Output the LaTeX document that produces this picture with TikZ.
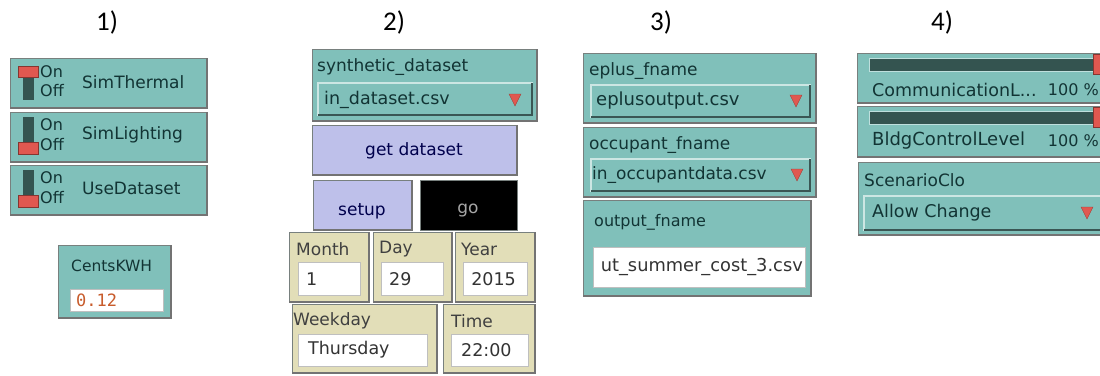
\documentclass[tikz,border=0pt]{standalone}
\usepackage{fontspec}
\setmainfont{DejaVu Sans}
\newfontfamily\titlefont{Carlito}
\newfontfamily\monofont{DejaVu Sans Mono}
\usepackage{tikz}

\definecolor{nlteal}{RGB}{128,192,186}
\definecolor{nltext}{RGB}{18,52,52}
\definecolor{nlbtn}{RGB}{190,192,234}
\definecolor{nlmon}{RGB}{226,222,184}
\definecolor{nlred}{RGB}{224,88,80}
\definecolor{nlbar}{RGB}{52,84,80}
\definecolor{nlorange}{RGB}{200,92,44}
\definecolor{nledge}{RGB}{120,128,126}

\begin{document}
\begin{tikzpicture}[x=1pt,y=-1pt,
  widget/.style={fill=nlteal, draw=nledge, line width=1pt},
  button/.style={fill=nlbtn, draw=nledge, line width=1pt},
  monitor/.style={fill=nlmon, draw=nledge, line width=1pt},
  shadow/.style={draw=black!55, line width=1.4pt},
  dropbox/.style={fill=nlteal, draw=white!60!nlteal, line width=1.2pt},
  drophi/.style={draw=nlteal!45!black, line width=1.4pt},
  whitebox/.style={fill=white, draw=black!25, line width=.6pt},
  tri/.style={fill=nlred, draw=nlred!70!black, line width=.4pt},
  lbl/.style={anchor=west, inner sep=0, text=nltext, font=\fontsize{17}{18}\selectfont},
  small/.style={font=\fontsize{16}{17}\selectfont},
  val/.style={anchor=west, inner sep=0, text=black!80, font=\fontsize{17.5}{19}\selectfont},
  title/.style={font=\titlefont\fontsize{27}{29}\selectfont}]
\useasboundingbox[fill=white] (0,0) rectangle (1100,375);

% headings
\node[title] (t1) at (107,22) {1)};
\node[title] (t2) at (394,22) {2)};
\node[title] (t3) at (661,22) {3)};
\node[title] (t4) at (942,22) {4)};

% 1) switches
\filldraw[widget] (10,58) rectangle (207,108); %
\draw[shadow] (10,108) -- (207,108) -- (207,58); %
\fill[nlbar] (23,70) rectangle (34,100);
\filldraw[fill=nlred, draw=nlred!60!black] (18,66) rectangle (38,77);
\node[lbl, small] (on1) at (40,72) {On};
\node[lbl, small] (off1) at (40,91) {Off};
\node[lbl] (simthermal) at (82,82) {SimThermal};

\filldraw[widget] (10,112) rectangle (207,162); %
\draw[shadow] (10,162) -- (207,162) -- (207,112); %
\fill[nlbar] (23,117) rectangle (34,150);
\filldraw[fill=nlred, draw=nlred!60!black] (18,142) rectangle (38,154);
\node[lbl, small] (on2) at (40,125) {On};
\node[lbl, small] (off2) at (40,145) {Off};
\node[lbl] (simlighting) at (82,135) {SimLighting};

\filldraw[widget] (10,165) rectangle (207,215); %
\draw[shadow] (10,215) -- (207,215) -- (207,165); %
\fill[nlbar] (23,170) rectangle (34,203);
\filldraw[fill=nlred, draw=nlred!60!black] (18,195) rectangle (38,207);
\node[lbl, small] (on3) at (40,178) {On};
\node[lbl, small] (off3) at (40,198) {Off};
\node[lbl] (usedataset) at (82,188) {UseDataset};

% 1) input box
\filldraw[widget] (58,245) rectangle (171,318); %
\draw[shadow] (58,318) -- (171,318) -- (171,245); %
\node[lbl, font=\fontsize{15.5}{17}\selectfont] (centskwh) at (71,266) {CentsKWH};
\filldraw[whitebox] (70,289) rectangle (163,311);
\node[anchor=west, inner sep=0, text=nlorange, font=\monofont\fontsize{17}{18}\selectfont] (centsval) at (76,300) {0.12};

% 2) chooser and buttons
\filldraw[widget] (312,49) rectangle (537,121); %
\draw[shadow] (312,121) -- (537,121) -- (537,49); %
\node[lbl] (synth) at (317,67) {synthetic\_dataset};
\filldraw[dropbox] (318,83) rectangle (532,115);
\draw[drophi] (318,115) -- (532,115) -- (532,83);
\node[val, text=nltext] (synthval) at (324,100) {in\_dataset.csv};
\filldraw[tri] (509,94) -- (521,94) -- (515,106) -- cycle;

\filldraw[button] (312,125) rectangle (517,175); %
\draw[shadow] (312,175) -- (517,175) -- (517,125); %
\node[text=black!70!blue, font=\fontsize{17}{18}\selectfont] (getdata) at (414,151) {get dataset};
\filldraw[button] (313,180) rectangle (412,230); %
\draw[shadow] (313,230) -- (412,230) -- (412,180); %
\node[text=black!70!blue, font=\fontsize{17}{18}\selectfont] (setup) at (362,211) {setup};
\filldraw[fill=black, draw=nledge, line width=1pt] (420,180) rectangle (517,230); %
\node[text=black!35, font=\fontsize{17}{18}\selectfont] (go) at (468,211) {go};

% 2) date monitors
\filldraw[monitor] (289,232) rectangle (369,302); %
\draw[shadow] (289,302) -- (369,302) -- (369,232); %
\node[lbl, text=black!75] (month) at (296,249) {Month};
\filldraw[whitebox] (298,262) rectangle (360,295);
\node[val] (monthval) at (306,279) {1};

\filldraw[monitor] (373,232) rectangle (452,302); %
\draw[shadow] (373,302) -- (452,302) -- (452,232); %
\node[lbl, text=black!75] (day) at (379,249) {Day};
\filldraw[whitebox] (381,262) rectangle (443,295);
\node[val] (dayval) at (389,279) {29};

\filldraw[monitor] (455,232) rectangle (535,302); %
\draw[shadow] (455,302) -- (535,302) -- (535,232); %
\node[lbl, text=black!75] (year) at (461,249) {Year};
\filldraw[whitebox] (463,262) rectangle (527,295);
\node[val, anchor=east] (yearval) at (516,279) {2015};

\filldraw[monitor] (292,304) rectangle (437,373); %
\draw[shadow] (292,373) -- (437,373) -- (437,304); %
\node[lbl, text=black!75] (weekday) at (293,321) {Weekday};
\filldraw[whitebox] (298,334) rectangle (427,366);
\node[val] (weekdayval) at (308,350) {Thursday};

\filldraw[monitor] (443,304) rectangle (535,373); %
\draw[shadow] (443,373) -- (535,373) -- (535,304); %
\node[lbl, text=black!75] (time) at (451,321) {Time};
\filldraw[whitebox] (451,334) rectangle (528,366);
\node[val] (timeval) at (461,350) {22:00};

% 3) file names
\filldraw[widget] (583,53) rectangle (816,123); %
\draw[shadow] (583,123) -- (816,123) -- (816,53); %
\node[lbl] (eplus) at (589,71) {eplus\_fname};
\filldraw[dropbox] (591,85) rectangle (810,117);
\draw[drophi] (591,117) -- (810,117) -- (810,85);
\node[val, text=nltext, font=\fontsize{18}{19}\selectfont] (eplusval) at (596,101) {eplusoutput.csv};
\filldraw[tri] (790,95) -- (802,95) -- (796,107) -- cycle;

\filldraw[widget] (583,127) rectangle (816,197); %
\draw[shadow] (583,197) -- (816,197) -- (816,127); %
\node[lbl] (occupant) at (589,145) {occupant\_fname};
\filldraw[dropbox] (591,159) rectangle (810,191);
\draw[drophi] (591,191) -- (810,191) -- (810,159);
\node[val, text=nltext, font=\fontsize{17}{18}\selectfont] (occupantval) at (592,175) {in\_occupantdata.csv};
\filldraw[tri] (791,169) -- (803,169) -- (797,181) -- cycle;

\filldraw[widget] (583,200) rectangle (811,296); %
\draw[shadow] (583,296) -- (811,296) -- (811,200); %
\node[lbl, font=\fontsize{16}{17}\selectfont] (output) at (594,222) {output\_fname};
\filldraw[whitebox] (593,247) rectangle (805,287);
\node[val, anchor=east, font=\fontsize{17.8}{19}\selectfont] (outputval) at (803,267) {ut\_summer\_cost\_3.csv};

% 4) sliders and chooser
\filldraw[widget] (857,53) rectangle (1110,103); %
\draw[shadow] (857,103) -- (1110,103); %
\filldraw[fill=nlbar, draw=white!50!nlteal, line width=.8pt] (869,58) rectangle (1110,71);
\filldraw[fill=nlred, draw=nlred!60!black] (1093,54) rectangle (1110,74);
\node[lbl, font=\fontsize{17.5}{19}\selectfont] (comm) at (872,90) {CommunicationL...};
\node[lbl, anchor=east, small] (commval) at (1099,90) {100 \%};

\filldraw[widget] (857,106) rectangle (1110,157); %
\draw[shadow] (857,157) -- (1110,157); %
\filldraw[fill=nlbar, draw=white!50!nlteal, line width=.8pt] (869,111) rectangle (1110,124);
\filldraw[fill=nlred, draw=nlred!60!black] (1093,107) rectangle (1110,127);
\node[lbl, font=\fontsize{18}{19}\selectfont] (bldg) at (872,141) {BldgControlLevel};
\node[lbl, anchor=east, small] (bldgval) at (1099,141) {100 \%};

\filldraw[widget] (858,162) rectangle (1110,235); %
\draw[shadow] (858,235) -- (1110,235); %
\node[lbl] (scenario) at (864,180) {ScenarioClo};
\filldraw[dropbox] (864,196) rectangle (1110,230);
\draw[drophi] (864,230) -- (1110,230);
\node[val, text=nltext] (scenarioval) at (872,213) {Allow Change};
\filldraw[tri] (1081,207) -- (1093,207) -- (1087,219) -- cycle;
\end{tikzpicture}
\end{document}
